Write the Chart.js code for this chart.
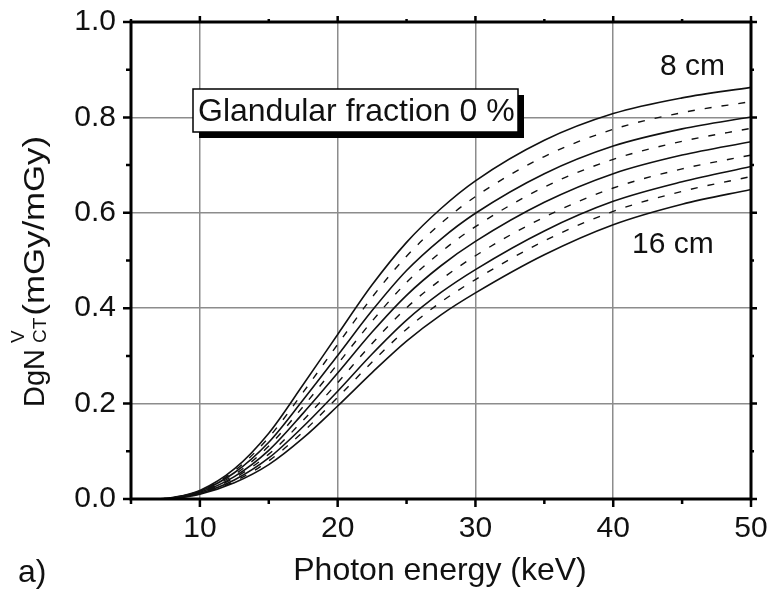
<!DOCTYPE html>
<html>
<head>
<meta charset="utf-8">
<script src="https://cdn.jsdelivr.net/npm/chart.js@4.4.1/dist/chart.umd.min.js"></script>
<style>
  body { margin: 0; background: #fff; }
  #wrap { width: 771px; height: 590px; }
</style>
</head>
<body>
<div id="wrap"><canvas id="chart"></canvas></div>
<script>
const energies = [7, 8, 10, 12.5, 15, 17.5, 20, 22.5, 25, 27.5, 30, 35, 40, 45, 50];

// DgN_CT^V for breast diameters 8 .. 16 cm (glandular fraction 0 %)
const cm8  = [0, 0.003, 0.018, 0.063, 0.138, 0.240, 0.345, 0.449, 0.538, 0.609, 0.667, 0.752, 0.808, 0.841, 0.863];
const cm9  = [0, 0.003, 0.017, 0.059, 0.129, 0.224, 0.324, 0.423, 0.509, 0.578, 0.634, 0.718, 0.775, 0.810, 0.833];
const cm10 = [0, 0.002, 0.016, 0.055, 0.119, 0.208, 0.301, 0.395, 0.479, 0.545, 0.599, 0.682, 0.740, 0.776, 0.801];
const cm11 = [0, 0.002, 0.015, 0.051, 0.111, 0.194, 0.283, 0.373, 0.454, 0.518, 0.571, 0.654, 0.712, 0.750, 0.777];
const cm12 = [0, 0.002, 0.014, 0.047, 0.102, 0.180, 0.264, 0.350, 0.427, 0.489, 0.540, 0.622, 0.682, 0.721, 0.749];
const cm13 = [0, 0.002, 0.013, 0.044, 0.094, 0.165, 0.244, 0.326, 0.401, 0.460, 0.510, 0.591, 0.652, 0.692, 0.721];
const cm14 = [0, 0.001, 0.012, 0.040, 0.086, 0.152, 0.226, 0.304, 0.375, 0.433, 0.481, 0.562, 0.624, 0.665, 0.697];
const cm15 = [0, 0.001, 0.011, 0.037, 0.080, 0.141, 0.213, 0.287, 0.356, 0.413, 0.460, 0.541, 0.603, 0.645, 0.676];
const cm16 = [0, 0.001, 0.010, 0.034, 0.072, 0.128, 0.195, 0.265, 0.331, 0.386, 0.432, 0.512, 0.575, 0.618, 0.649];

const curves = [cm8, cm9, cm10, cm11, cm12, cm13, cm14, cm15, cm16];
const curveNames = ['8 cm', '9 cm', '10 cm', '11 cm', '12 cm', '13 cm', '14 cm', '15 cm', '16 cm'];

const xMin = 5, xMax = 50;
const yMin = 0, yMax = 1;

const FONT = '"Liberation Sans", Arial, sans-serif';
const INK = '#111';

const datasets = curves.map((vals, i) => ({
    label: curveNames[i],
    data: energies.map((e, j) => ({ x: e, y: vals[j] })),
    borderColor: INK,
    borderWidth: i % 2 === 0 ? 1.6 : 1.4,
    borderDash: i % 2 === 0 ? [] : [7, 10],
    pointRadius: 0,
    fill: false,
    cubicInterpolationMode: 'monotone'
}));

// frame, outward ticks on all four sides, labels and the boxed note
const decorations = {
    id: 'decorations',
    afterDatasetsDraw(chart) {
        const { ctx, chartArea: a, scales: { x, y } } = chart;
        ctx.save();
        ctx.strokeStyle = '#000';
        ctx.lineCap = 'butt';

        ctx.lineWidth = 2.5;
        ctx.beginPath();
        x.ticks.forEach(t => {
            const px = x.getPixelForValue(t.value);
            const major = t.value % 10 === 0;
            ctx.moveTo(px, a.bottom); ctx.lineTo(px, a.bottom + (major ? 8 : 5));
            ctx.moveTo(px, a.top); ctx.lineTo(px, a.top - (major ? 6 : 3));
        });
        y.ticks.forEach(t => {
            const py = y.getPixelForValue(t.value);
            const major = Math.round(t.value * 10) % 2 === 0;
            ctx.moveTo(a.left, py); ctx.lineTo(a.left - (major ? 8 : 5), py);
            ctx.moveTo(a.right, py); ctx.lineTo(a.right + (major ? 6 : 3), py);
        });
        ctx.stroke();

        ctx.lineWidth = 3;
        ctx.strokeRect(a.left, a.top, a.right - a.left, a.bottom - a.top);

        // boxed note with drop shadow
        ctx.fillStyle = '#000';
        ctx.fillRect(199, 95, 325, 43);
        ctx.fillStyle = '#fff';
        ctx.fillRect(193, 89, 325, 43);
        ctx.lineWidth = 1.5;
        ctx.strokeRect(193, 89, 325, 43);

        ctx.fillStyle = INK;
        ctx.textBaseline = 'alphabetic';
        ctx.font = '32px ' + FONT;
        ctx.textAlign = 'left';
        ctx.fillText('Glandular fraction 0 %', 198, 121);

        ctx.font = '30px ' + FONT;
        ctx.textAlign = 'right';
        ctx.fillText('8 cm', 725, 75);
        ctx.textAlign = 'left';
        ctx.fillText('16 cm', 632, 253);

        ctx.font = '32px ' + FONT;
        ctx.textAlign = 'center';
        ctx.fillText('Photon energy (keV)', 440, 580);

        ctx.textAlign = 'left';
        ctx.fillText('a)', 18, 582);

        // rotated y title with super- and subscript
        ctx.translate(44, 407);
        ctx.rotate(-Math.PI / 2);
        ctx.font = '29px ' + FONT;
        ctx.fillText('DgN', 0, 0);
        const w1 = ctx.measureText('DgN').width;
        ctx.font = '19px ' + FONT;
        ctx.fillText('V', w1 + 6, -20);
        ctx.fillText('CT', w1 + 6, 2);
        const w2 = ctx.measureText('CT').width;
        ctx.translate(w1 + 6 + w2 + 2, 0);
        ctx.scale(1.16, 1);
        ctx.font = '30px ' + FONT;
        ctx.fillText('(mGy/mGy)', 0, 0);
        ctx.restore();
    }
};

new Chart(document.getElementById('chart'), {
    type: 'line',
    data: { datasets: datasets },
    options: {
        responsive: true,
        maintainAspectRatio: false,
        animation: false,
        layout: { padding: { left: 0, right: 20, top: 22, bottom: 0 } },
        plugins: {
            legend: { display: false },
            tooltip: { enabled: false }
        },
        scales: {
            x: {
                type: 'linear',
                min: xMin,
                max: xMax,
                afterFit: s => { s.height = 91; s.paddingLeft = 0; s.paddingRight = 0; },
                border: { display: false },
                grid: {
                    drawTicks: false,
                    lineWidth: 1.5,
                    color: c => (c.tick && c.tick.value % 10 === 0 && c.tick.value > xMin && c.tick.value < xMax) ? '#8c8c8c' : 'rgba(0,0,0,0)'
                },
                ticks: {
                    stepSize: 5,
                    autoSkip: false,
                    maxRotation: 0,
                    padding: 12,
                    color: INK,
                    font: { family: FONT, size: 30 },
                    callback: v => v % 10 === 0 ? String(v) : ''
                }
            },
            y: {
                min: yMin,
                max: yMax,
                afterFit: s => { s.width = 131; s.paddingTop = 0; s.paddingBottom = 0; },
                border: { display: false },
                grid: {
                    drawTicks: false,
                    lineWidth: 1.5,
                    color: c => {
                        const k = c.tick ? Math.round(c.tick.value * 10) : 1;
                        return (k % 2 === 0 && k > 0 && k < 10) ? '#8c8c8c' : 'rgba(0,0,0,0)';
                    }
                },
                ticks: {
                    stepSize: 0.1,
                    autoSkip: false,
                    padding: 15,
                    color: INK,
                    font: { family: FONT, size: 30 },
                    callback: v => Math.round(v * 10) % 2 === 0 ? v.toFixed(1) : ''
                }
            }
        }
    },
    plugins: [decorations]
});
</script>
</body>
</html>
